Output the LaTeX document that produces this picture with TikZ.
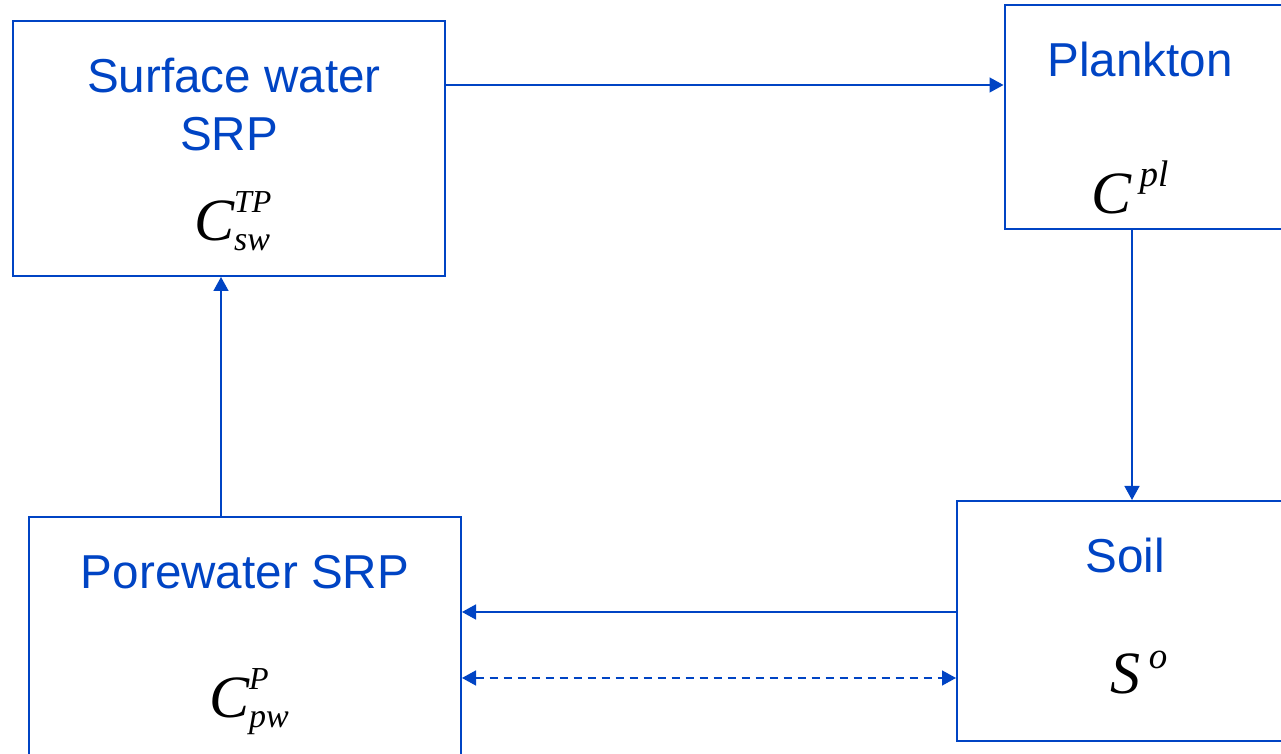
\documentclass[tikz,border=0pt]{standalone}
\usepackage{fontspec}
\setmainfont{Liberation Sans}
\newfontfamily\timesit{Liberation Serif}
\usetikzlibrary{calc,arrows.meta}
\definecolor{srpblue}{RGB}{0,68,196}

% concentration symbol: base, superscript, subscript
\newcommand{\conc}[3]{{\fontsize{30}{30}\selectfont\timesit\itshape #1}%
  \rlap{\raisebox{14pt}{\fontsize{16}{16}\selectfont\timesit\itshape #2}}%
  \raisebox{-5pt}{\fontsize{17}{17}\selectfont\timesit\itshape #3}}
% symbol with a superscript only
\newcommand{\concup}[3]{{\fontsize{30}{30}\selectfont\timesit\itshape #1}%
  \hspace{4pt}\raisebox{#3}{\fontsize{18.5}{18.5}\selectfont\timesit\itshape #2}}

\begin{document}
\begin{tikzpicture}[x=0.5pt,y=0.5pt,
    pool/.style={draw=srpblue,line width=1pt,inner sep=0pt},
    label/.style={text=srpblue,font=\fontsize{23.8}{28}\selectfont,anchor=base,inner sep=0pt},
    sym/.style={anchor=base,inner sep=0pt},
    flow/.style={draw=srpblue,line width=0.75pt,-{Triangle[length=7pt,width=7.5pt]}},
    twoway/.style={flow,{Triangle[length=7pt,width=7.5pt]}-{Triangle[length=7pt,width=7.5pt]},dash pattern=on 4pt off 3pt}]
    \useasboundingbox (0,0) rectangle (1281,754);
    \clip (0,0) rectangle (1281,754);
    %%
    \node[pool,minimum width=216.25pt,minimum height=127.25pt] (sw) at (228.75,605.25) {};
    \node[pool,minimum width=142.75pt,minimum height=112pt] (pl) at (1147.25,637) {};
    \node[pool,minimum width=166.5pt,minimum height=120pt] (soil) at (1123.5,133) {};
    \node[pool,minimum width=216pt,minimum height=124pt] (pw) at (245,113) {};
    %%
    \node[label] (swname) at (234,661) {Surface water};
    \node[label] (swsrp) at (229,603) {SRP};
    \node[sym] (swconc) at (232,513) {\conc{C}{TP}{sw}};
    \node[label] (plname) at (1140,677) {Plankton};
    \node[sym] (plconc) at (1130,540) {\concup{C}{pl}{13.5pt}};
    \node[label] (soilname) at (1125,181) {Soil};
    \node[sym] (soilconc) at (1139,60) {\concup{S}{o}{12.5pt}};
    \node[label] (pwname) at (245,165) {Porewater SRP};
    \node[sym] (pwconc) at (249,36) {\conc{C}{P}{pw}};
    %%
    \coordinate (top) at (0,669);
    \coordinate (mid) at (0,142);
    \coordinate (low) at (0,76);
    \coordinate (up) at (221,0);
    \coordinate (down) at (1132,0);
    \draw[flow] (sw.east |- top) -- (pl.west |- top);
    \draw[flow] (pl.south -| down) -- (soil.north -| down);
    \draw[flow] (soil.west |- mid) -- (pw.east |- mid);
    \draw[twoway] (pw.east |- low) -- (soil.west |- low);
    \draw[flow] (pw.north -| up) -- (sw.south -| up);
\end{tikzpicture}
\end{document}
